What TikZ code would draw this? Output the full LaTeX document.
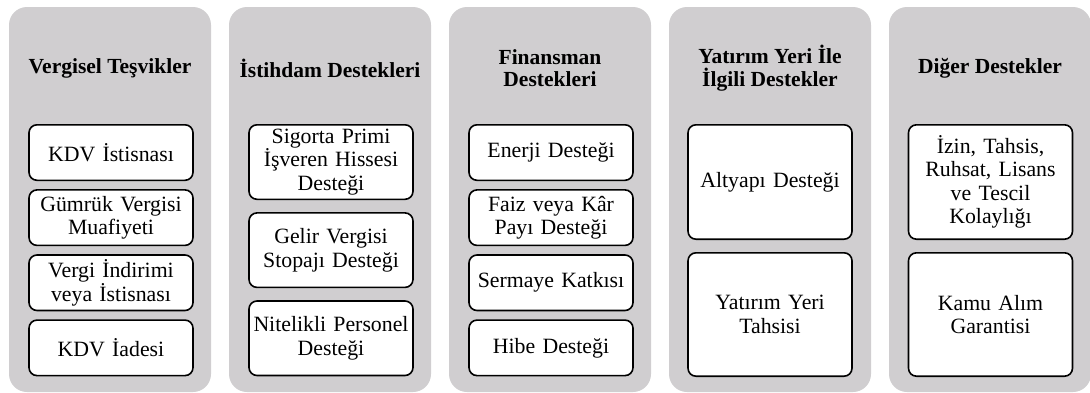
\documentclass[tikz,border=0pt]{standalone}
\usepackage{fontspec}
\setmainfont{Liberation Serif}
\usetikzlibrary{positioning}
\definecolor{panelgray}{RGB}{208,206,208}

\begin{document}
\begin{tikzpicture}[x=1pt, y=-1pt,
  panel/.style = {fill=panelgray, rounded corners=18pt,
    minimum width=202pt, minimum height=385pt, inner sep=0pt},
  title/.style = {align=center, font=\fontsize{21.5}{22.5}\selectfont\bfseries},
  item/.style = {draw, line width=1.6pt, fill=white, rounded corners=8pt,
    align=center, text width=162pt, minimum width=164pt, inner sep=0.5pt,
    font=\fontsize{21.8}{23.5}\selectfont},
  small/.style = {minimum height=55.5pt},
  mid/.style = {minimum height=74.5pt},
  node distance=8pt
  ]
  \useasboundingbox (0,0) rectangle (1090,392);
  % panels
  \node[panel] (vergi) at (110,199.5) {};
  \node[panel] (istihdam) at (330,199.5) {};
  \node[panel] (finans) at (550,199.5) {};
  \node[panel] (yer) at (770,199.5) {};
  \node[panel] (diger) at (990,199.5) {};
  % titles
  \node[title] (vergiT) at (110,68) {Vergisel Teşvikler};
  \node[title] (istihdamT) at (330,68) {İstihdam Destekleri};
  \node[title] (finansT) at (550,68) {Finansman\\Destekleri};
  \node[title] (yerT) at (770,68) {Yatırım Yeri İle\\İlgili Destekler};
  \node[title] (digerT) at (990,68) {Diğer Destekler};
  % vergisel
  \node[item, small, anchor=north] (kdvIst) at (111,124) {KDV İstisnası};
  \node[item, small, below=of kdvIst] (gumruk) {Gümrük Vergisi\\Muafiyeti};
  \node[item, small, below=of gumruk] (indirim) {Vergi İndirimi\\veya İstisnası};
  \node[item, small, below=of indirim] (kdvIade) {KDV İadesi};
  % istihdam
  \node[item, mid, anchor=north] (sigorta) at (331,124) {Sigorta Primi\\İşveren Hissesi\\Desteği};
  \node[item, mid, below=12pt of sigorta] (stopaj) {Gelir Vergisi\\Stopajı Desteği};
  \node[item, mid, below=12pt of stopaj] (personel) {Nitelikli Personel\\Desteği};
  % finansman
  \node[item, small, anchor=north] (enerji) at (551,124) {Enerji Desteği};
  \node[item, small, below=of enerji] (faiz) {Faiz veya Kâr\\Payı Desteği};
  \node[item, small, below=of faiz] (sermaye) {Sermaye Katkısı};
  \node[item, small, below=of sermaye] (hibe) {Hibe Desteği};
  % yatirim yeri
  \node[item, minimum height=114.4pt, anchor=north] (altyapi) at (770,124) {Altyapı Desteği};
  \node[item, minimum height=123.4pt, below=12pt of altyapi] (tahsis) {Yatırım Yeri\\Tahsisi};
  % diger
  \node[item, minimum height=114.4pt, anchor=north] (izin) at (990.5,124) {İzin, Tahsis,\\Ruhsat, Lisans\\ve Tescil\\Kolaylığı};
  \node[item, minimum height=123.4pt, below=12pt of izin] (kamu) {Kamu Alım\\Garantisi};
\end{tikzpicture}
\end{document}
